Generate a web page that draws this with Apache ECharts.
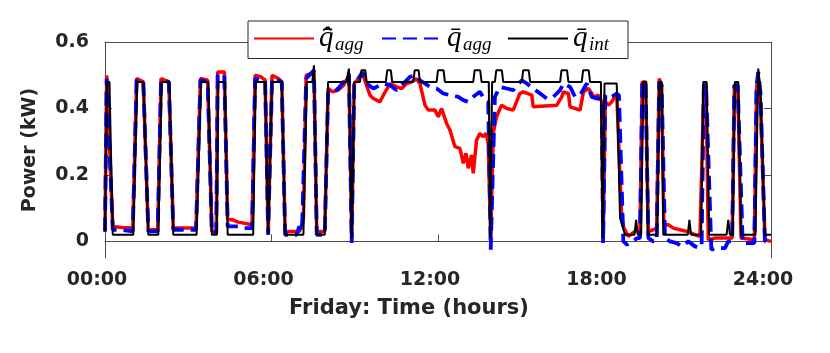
<!DOCTYPE html>
<html>
<head>
<meta charset="utf-8">
<script src="https://cdn.jsdelivr.net/npm/echarts@6/dist/echarts.min.js"></script>
<style>
  html, body { margin: 0; padding: 0; background: #fff; }
  #chart { width: 830px; height: 353px; }
</style>
</head>
<body>
<div id="chart"></div>
<script>
// ticks
const xTickValues = [0, 6, 12, 18, 24];
const xTickLabels = ['00:00', '06:00', '12:00', '18:00', '24:00'];
const yTickValues = [0, 0.2, 0.4, 0.6];
const yTickLabels = ['0', '0.2', '0.4', '0.6'];

// [hour, kW]
const qHatAgg = [
  [0, 0.03], [0.06, 0.50], [0.12, 0.50], [0.28, 0.045], [0.6, 0.042], [1.0, 0.04],
  [1.14, 0.49], [1.38, 0.48], [1.56, 0.035], [1.90, 0.035], [2.02, 0.49], [2.30, 0.48],
  [2.46, 0.04], [3.28, 0.04], [3.44, 0.49], [3.70, 0.485], [3.85, 0.03], [4.01, 0.03],
  [4.06, 0.51], [4.30, 0.51], [4.42, 0.065], [4.6, 0.065], [4.8, 0.058], [5.0, 0.055],
  [5.3, 0.05], [5.41, 0.50], [5.62, 0.495], [5.77, 0.485], [5.88, 0.025], [5.95, 0.025],
  [6.02, 0.50], [6.25, 0.49], [6.37, 0.48], [6.49, 0.03], [7.0, 0.03], [7.08, 0.045],
  [7.15, 0.07], [7.25, 0.50], [7.42, 0.505], [7.53, 0.515], [7.63, 0.03], [7.92, 0.03],
  [8.04, 0.46], [8.2, 0.45], [8.4, 0.455], [8.6, 0.47], [8.79, 0.50], [8.89, 0.01],
  [8.98, 0.475], [9.28, 0.505], [9.55, 0.44], [9.67, 0.43], [9.91, 0.42], [10.03, 0.44],
  [10.27, 0.475], [10.51, 0.465], [10.69, 0.46], [10.87, 0.475], [11.05, 0.48], [11.21, 0.49],
  [11.35, 0.475], [11.53, 0.41], [11.65, 0.395], [11.89, 0.395], [12.01, 0.375], [12.13, 0.40],
  [12.31, 0.355], [12.43, 0.335], [12.61, 0.285], [12.79, 0.28], [12.91, 0.235], [13.01, 0.265],
  [13.09, 0.22], [13.21, 0.26], [13.27, 0.205], [13.39, 0.305], [13.51, 0.325], [13.63, 0.315],
  [13.73, 0.325], [13.81, 0.295], [13.90, 0.005], [13.99, 0.325], [14.11, 0.375], [14.29, 0.41],
  [14.48, 0.40], [14.71, 0.395], [14.95, 0.445], [15.07, 0.45], [15.38, 0.44], [15.43, 0.405],
  [16.28, 0.41], [16.46, 0.435], [16.52, 0.45], [16.70, 0.445], [16.76, 0.405], [17.12, 0.395],
  [17.24, 0.45], [17.42, 0.46], [17.54, 0.445], [17.60, 0.435], [17.78, 0.44], [17.90, 0.42],
  [17.95, 0.01], [18.03, 0.42], [18.14, 0.41], [18.26, 0.42], [18.44, 0.445], [18.50, 0.44],
  [18.62, 0.07], [18.70, 0.04], [18.86, 0.015], [19.10, 0.03], [19.28, 0.035], [19.36, 0.48],
  [19.48, 0.48], [19.58, 0.03], [19.76, 0.035], [19.88, 0.04], [19.97, 0.49], [20.06, 0.47],
  [20.14, 0.05], [20.30, 0.05], [20.48, 0.04], [20.72, 0.035], [20.96, 0.03], [21.26, 0.02],
  [21.44, 0.015], [21.50, 0.01], [21.58, 0.47], [21.66, 0.47], [21.74, 0.005], [22.0, 0.01],
  [22.6, 0.01], [22.68, 0.47], [22.80, 0.47], [22.92, 0.01], [23.40, 0.005], [23.48, 0.46],
  [23.54, 0.50], [23.62, 0.42], [23.78, 0.005], [24, 0.0]
];

const qAgg = [
  [0, 0.03], [0.06, 0.49], [0.12, 0.49], [0.28, 0.035], [0.6, 0.035], [1.0, 0.03],
  [1.14, 0.485], [1.38, 0.48], [1.56, 0.03], [1.90, 0.03], [2.02, 0.485], [2.30, 0.48],
  [2.46, 0.035], [3.28, 0.035], [3.44, 0.485], [3.70, 0.48], [3.85, 0.025], [4.01, 0.025],
  [4.06, 0.50], [4.30, 0.50], [4.42, 0.045], [4.8, 0.045], [5.0, 0.04], [5.3, 0.04],
  [5.41, 0.49], [5.77, 0.485], [5.88, 0.02], [5.95, 0.02], [6.02, 0.49], [6.37, 0.48],
  [6.49, 0.02], [6.9, 0.02], [7.0, 0.045], [7.1, 0.03], [7.25, 0.49], [7.42, 0.505],
  [7.53, 0.515], [7.63, 0.02], [7.92, 0.02], [8.04, 0.45], [8.2, 0.445], [8.4, 0.46],
  [8.6, 0.48], [8.79, 0.505], [8.89, -0.005], [8.98, 0.47], [9.28, 0.51], [9.43, 0.475],
  [9.67, 0.46], [9.79, 0.465], [10.03, 0.475], [10.27, 0.47], [10.51, 0.455], [10.75, 0.475],
  [10.99, 0.495], [11.17, 0.50], [11.35, 0.485], [11.71, 0.465], [11.95, 0.46], [12.19, 0.445],
  [12.43, 0.44], [12.73, 0.435], [12.91, 0.425], [13.09, 0.42], [13.27, 0.435], [13.51, 0.45],
  [13.69, 0.425], [13.81, 0.42], [13.90, -0.025], [14.05, 0.435], [14.23, 0.465], [14.48, 0.46],
  [14.71, 0.455], [15.02, 0.485], [15.20, 0.475], [15.43, 0.46], [15.68, 0.445], [15.92, 0.43],
  [16.16, 0.435], [16.40, 0.455], [16.52, 0.475], [16.76, 0.465], [16.94, 0.435], [17.12, 0.44],
  [17.36, 0.475], [17.54, 0.435], [17.72, 0.43], [17.90, 0.43], [17.95, -0.005], [18.03, 0.44],
  [18.26, 0.435], [18.44, 0.445], [18.52, 0.44], [18.68, 0.0], [18.82, -0.01], [19.0, 0.0],
  [19.18, 0.01], [19.28, 0.01], [19.36, 0.48], [19.48, 0.48], [19.58, 0.01], [19.76, 0.0],
  [19.88, 0.0], [19.97, 0.48], [20.06, 0.47], [20.18, 0.01], [20.36, 0.0], [20.60, -0.005],
  [20.78, -0.015], [21.02, 0.0], [21.26, -0.015], [21.44, -0.02], [21.50, -0.01], [21.58, 0.47],
  [21.66, 0.47], [21.85, -0.025], [21.98, -0.02], [22.34, -0.02], [22.46, 0.0], [22.60, 0.0],
  [22.68, 0.47], [22.80, 0.47], [22.98, -0.005], [23.40, -0.005], [23.48, 0.47], [23.54, 0.51],
  [23.62, 0.45], [23.78, 0.0], [24, 0.0]
];

const qInt = [
  [0, 0.03], [0.07, 0.48], [0.16, 0.48], [0.28, 0.02], [1.02, 0.02], [1.16, 0.48],
  [1.38, 0.48], [1.56, 0.02], [1.92, 0.02], [2.04, 0.48], [2.32, 0.48], [2.46, 0.02],
  [3.30, 0.02], [3.46, 0.48], [3.72, 0.48], [3.85, 0.02], [4.03, 0.02], [4.08, 0.48],
  [4.32, 0.48], [4.42, 0.02], [5.34, 0.02], [5.43, 0.48], [5.77, 0.48], [5.88, 0.02],
  [5.95, 0.02], [6.02, 0.48], [6.37, 0.48], [6.49, 0.02], [7.15, 0.02], [7.27, 0.48],
  [7.47, 0.48], [7.53, 0.53], [7.63, 0.02], [7.92, 0.02], [8.04, 0.48], [8.70, 0.48],
  [8.79, 0.52], [8.89, 0.01], [8.98, 0.48], [9.19, 0.48], [9.24, 0.515], [9.38, 0.515],
  [9.43, 0.48], [10.12, 0.48], [10.17, 0.515], [10.30, 0.515], [10.35, 0.48], [11.11, 0.48],
  [11.16, 0.515], [11.30, 0.515], [11.35, 0.48], [11.95, 0.48], [12.00, 0.515], [12.20, 0.515],
  [12.25, 0.48], [13.27, 0.48], [13.32, 0.515], [13.52, 0.515], [13.57, 0.48], [13.83, 0.48],
  [13.88, 0.01], [13.95, 0.48], [14.05, 0.48], [14.10, 0.515], [14.30, 0.515], [14.35, 0.48],
  [15.02, 0.48], [15.07, 0.515], [15.27, 0.515], [15.32, 0.48], [16.40, 0.48], [16.45, 0.515],
  [16.65, 0.515], [16.70, 0.48], [17.18, 0.48], [17.23, 0.515], [17.43, 0.515], [17.48, 0.48],
  [17.87, 0.48], [17.93, 0.01], [18.00, 0.475], [18.44, 0.475], [18.56, 0.07], [18.74, 0.02],
  [19.08, 0.02], [19.14, 0.065], [19.20, 0.02], [19.32, 0.02], [19.40, 0.48], [19.50, 0.48],
  [19.56, 0.02], [19.90, 0.02], [19.98, 0.48], [20.06, 0.48], [20.12, 0.02], [21.00, 0.02],
  [21.06, 0.065], [21.12, 0.02], [21.48, 0.02], [21.56, 0.48], [21.68, 0.48], [21.77, 0.02],
  [22.40, 0.02], [22.46, 0.065], [22.52, 0.02], [22.62, 0.02], [22.70, 0.48], [22.82, 0.48],
  [22.92, 0.02], [23.44, 0.02], [23.54, 0.52], [23.62, 0.45], [23.78, 0.02], [24, 0.02]
];

const axisColor = '#4d4d4d';
const textColor = '#262626';
const labelFont = { fontFamily: 'DejaVu Sans', fontWeight: 'bold', fontSize: 19, color: textColor };

// legend labels: q with accents + italic subscript
const legendRich = {
  q: { fontFamily: 'Liberation Serif', fontStyle: 'italic', fontSize: 29, lineHeight: 32, width: 16, color: '#000' },
  s: { fontFamily: 'Liberation Serif', fontStyle: 'italic', fontSize: 19, lineHeight: 19, verticalAlign: 'bottom', width: 34, color: '#000' },
  sw: { fontFamily: 'Liberation Serif', fontStyle: 'italic', fontSize: 19, lineHeight: 19, verticalAlign: 'bottom', width: 36, color: '#000' }
};
const legendText = {
  qHatAgg: '{q|q\u0304\u0302}{sw|agg}',
  qAgg: '{q|q\u0304}{s|agg}',
  qInt: '{q|q\u0304}{s|int}'
};

const chart = echarts.init(document.getElementById('chart'), null, { renderer: 'canvas' });

const option = {
  animation: false,
  backgroundColor: '#fff',
  grid: { left: 105, right: 59, top: 42, bottom: 95, containLabel: false },
  legend: {
    left: 248,
    top: 21,
    padding: [3, 5, 4, 5],
    itemWidth: 60,
    itemHeight: 8,
    itemGap: 10,
    backgroundColor: '#fff',
    borderColor: '#262626',
    borderWidth: 1,
    borderRadius: 0,
    z: 10,
    itemStyle: { opacity: 0 },
    data: ['qHatAgg', 'qAgg', 'qInt'],
    formatter: (name) => legendText[name],
    textStyle: { rich: legendRich }
  },
  xAxis: [
    {
      type: 'value', min: 0, max: 24, interval: 6,
      name: 'Friday: Time (hours)', nameLocation: 'middle', nameGap: 40,
      nameTextStyle: { fontFamily: 'DejaVu Sans', fontWeight: 'bold', fontSize: 21, color: textColor, padding: [0, 58, 0, 0] },
      axisLine: { show: true, lineStyle: { color: axisColor, width: 1 } },
      axisTick: { show: true, inside: true, length: 7, lineStyle: { color: axisColor } },
      axisLabel: {
        ...labelFont, margin: 13, padding: [0, 16, 0, 0],
        formatter: (v) => xTickLabels[xTickValues.indexOf(v)]
      },
      splitLine: { show: false }
    },
    {
      type: 'value', min: 0, max: 24, interval: 6, position: 'top',
      axisLine: { show: true, onZero: false, lineStyle: { color: axisColor, width: 1 } },
      axisTick: { show: true, inside: true, length: 7, lineStyle: { color: axisColor } },
      axisLabel: { show: false },
      splitLine: { show: false }
    }
  ],
  yAxis: [
    {
      type: 'value', min: -0.05, max: 0.6,
      name: 'Power (kW)', nameLocation: 'middle', nameGap: 65,
      nameTextStyle: { fontFamily: 'DejaVu Sans', fontWeight: 'bold', fontSize: 19, color: textColor },
      axisLine: { show: true, onZero: false, lineStyle: { color: axisColor, width: 1 } },
      axisTick: { show: true, inside: true, length: 7, customValues: yTickValues, lineStyle: { color: axisColor } },
      axisLabel: {
        ...labelFont, margin: 16, customValues: yTickValues,
        formatter: (v) => yTickLabels[yTickValues.findIndex((t) => Math.abs(t - v) < 1e-9)]
      },
      splitLine: { show: false }
    },
    {
      type: 'value', min: -0.05, max: 0.6, position: 'right',
      axisLine: { show: true, onZero: false, lineStyle: { color: axisColor, width: 1 } },
      axisTick: { show: true, inside: true, length: 7, customValues: yTickValues, lineStyle: { color: axisColor } },
      axisLabel: { show: false },
      splitLine: { show: false }
    }
  ],
  series: [
    {
      name: 'qHatAgg', type: 'line', data: qHatAgg, showSymbol: false, symbol: 'none',
      lineStyle: { color: '#ff0000', width: 3.5 }, itemStyle: { color: '#ff0000' }, z: 2
    },
    {
      name: 'qAgg', type: 'line', data: qAgg, showSymbol: false, symbol: 'none',
      lineStyle: { color: '#0000ff', width: 3.8, type: [14, 7] }, itemStyle: { color: '#0000ff' }, z: 3
    },
    {
      name: 'qInt', type: 'line', data: qInt, showSymbol: false, symbol: 'none',
      lineStyle: { color: '#000000', width: 2 }, itemStyle: { color: '#000000' }, z: 4
    }
  ]
};

chart.setOption(option);
</script>
</body>
</html>
